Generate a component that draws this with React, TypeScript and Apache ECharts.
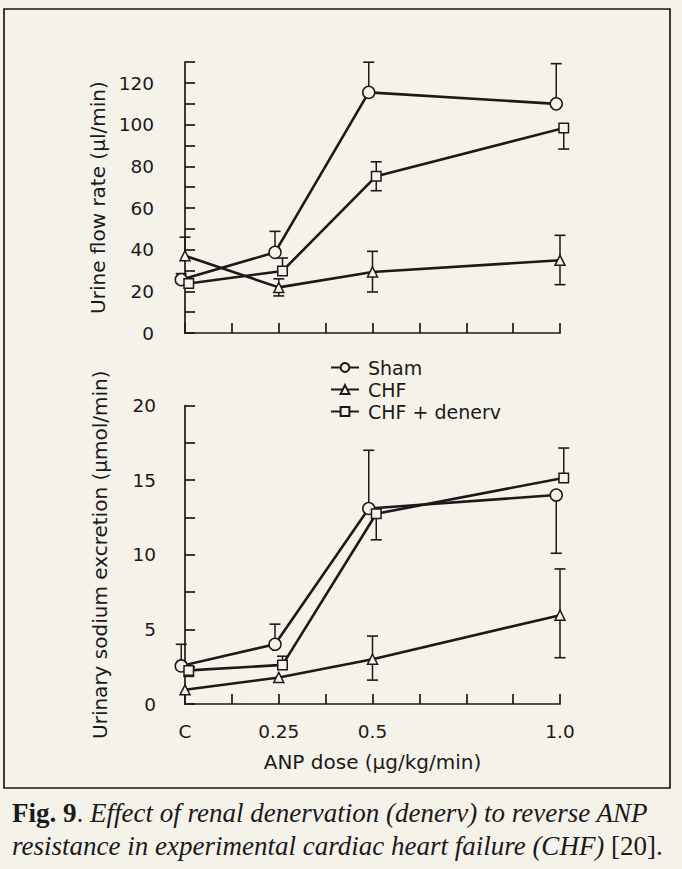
import React, { useEffect, useRef } from "react";
import * as echarts from "echarts";

// ---- data ----
const doses = [0, 0.25, 0.5, 1.0];
const xTickLabels = ["C", "0.25", "0.5", "1.0"];
const seriesNames = ["Sham", "CHF", "CHF + denerv"];

// Urine flow rate (µl/min)
const flowSham = [25.6, 38.7, 115.5, 110];
const flowShamHi = [28.5, 48.8, 130, 129.3];
const flowShamLo: (number | null)[] = [null, null, null, null];
const flowCHF = [37.1, 21.9, 29.3, 34.9];
const flowCHFHi = [46, 26, 39.2, 46.9];
const flowCHFLo: (number | null)[] = [null, 17.8, 19.7, 23.2];
const flowDen = [23.8, 29.8, 75.3, 98.4];
const flowDenHi: (number | null)[] = [null, 36, 82.2, null];
const flowDenLo: (number | null)[] = [null, null, 68.3, 88.3];

// Urinary sodium excretion (µmol/min)
const naSham = [2.55, 4.0, 13.1, 14.0];
const naShamHi: (number | null)[] = [4.0, 5.35, 17.0, null];
const naShamLo: (number | null)[] = [null, null, null, 10.1];
const naCHF = [0.95, 1.78, 3.0, 5.95];
const naCHFHi: (number | null)[] = [null, null, 4.55, 9.05];
const naCHFLo: (number | null)[] = [null, null, 1.6, 3.1];
const naDen = [2.25, 2.62, 12.75, 15.15];
const naDenHi: (number | null)[] = [null, 3.2, null, 17.15];
const naDenLo: (number | null)[] = [1.85, null, 11.0, null];

// ---- style ----
const INK = "#1a1a1a";
const PAPER = "#f5f2ea";
const SANS = "DejaVu Sans";
const SERIF = "Liberation Serif";
const xJitter = [-0.01, 0, 0.01];
const symbols = ["circle", "triangle", "rect"];
const symbolSizes = [12, 10, 9.5];

function App() {
  const ref = useRef<HTMLDivElement>(null);
  useEffect(() => {
    const chart = echarts.init(ref.current!, null, { renderer: "svg" });

    const lineSeries = (
      name: string,
      idx: number,
      vals: number[],
      axis: number
    ) => ({
      type: "line",
      name,
      xAxisIndex: axis,
      yAxisIndex: axis,
      data: doses.map((d, i) => [d + xJitter[idx], vals[i]]),
      symbol: symbols[idx],
      symbolSize: symbolSizes[idx],
      showSymbol: true,
      clip: false,
      z: 3,
      lineStyle: { color: INK, width: 2.6 },
      itemStyle: { color: PAPER, borderColor: INK, borderWidth: 1.5 },
      emphasis: { disabled: true },
    });

    const errSeries = (
      idx: number,
      vals: number[],
      hi: (number | null)[],
      lo: (number | null)[],
      axis: number
    ) => ({
      type: "custom",
      xAxisIndex: axis,
      yAxisIndex: axis,
      z: 1,
      silent: true,
      clip: false,
      data: doses.map((d, i) => [d + xJitter[idx], vals[i]]),
      renderItem: (params: any, api: any) => {
        const i = params.dataIndex;
        const x = api.value(0);
        const m = api.value(1);
        const top = hi[i] != null ? (hi[i] as number) : m;
        const bot = lo[i] != null ? (lo[i] as number) : m;
        const pTop = api.coord([x, top]);
        const pBot = api.coord([x, bot]);
        const children: any[] = [
          {
            type: "line",
            shape: { x1: pTop[0], y1: pTop[1], x2: pBot[0], y2: pBot[1] },
            style: { stroke: INK, lineWidth: 1.5 },
          },
        ];
        const cw = 5.5;
        if (hi[i] != null)
          children.push({
            type: "line",
            shape: { x1: pTop[0] - cw, y1: pTop[1], x2: pTop[0] + cw, y2: pTop[1] },
            style: { stroke: INK, lineWidth: 1.6 },
          });
        if (lo[i] != null)
          children.push({
            type: "line",
            shape: { x1: pBot[0] - cw, y1: pBot[1], x2: pBot[0] + cw, y2: pBot[1] },
            style: { stroke: INK, lineWidth: 1.6 },
          });
        return { type: "group", children };
      },
    });

    const axisLine = { show: true, lineStyle: { color: INK, width: 1.7 } };
    const tick = { show: true, inside: true, length: 10, lineStyle: { color: INK, width: 1.7 } };
    const labelStyle = { color: INK, fontFamily: SANS, fontSize: 18.5 };
    const nameStyle = { color: INK, fontFamily: SANS, fontSize: 20 };

    chart.setOption({
      animation: false,
      backgroundColor: PAPER,
      grid: [
        { left: 185, right: 122, top: 62.2, bottom: 536 },
        { left: 185, right: 122, top: 405.5, bottom: 165 },
      ],
      xAxis: [
        {
          type: "value",
          gridIndex: 0,
          min: 0,
          max: 1,
          interval: 0.125,
          axisLine,
          axisTick: tick,
          axisLabel: { show: false },
          splitLine: { show: false },
        },
        {
          type: "value",
          gridIndex: 1,
          min: 0,
          max: 1,
          interval: 0.125,
          offset: 10,
          axisLine,
          axisTick: tick,
          axisLabel: {
            ...labelStyle,
            margin: 8,
            formatter: (v: number) => {
              const k = doses.findIndex((d) => Math.abs(d - v) < 1e-6);
              return k >= 0 ? xTickLabels[k] : "";
            },
          },
          splitLine: { show: false },
          name: "ANP dose (µg/kg/min)",
          nameLocation: "middle",
          nameGap: 38,
          nameTextStyle: nameStyle,
        },
      ],
      yAxis: [
        {
          type: "value",
          gridIndex: 0,
          min: 0,
          max: 130,
          interval: 10,
          offset: 21,
          axisLine,
          axisTick: tick,
          axisLabel: {
            ...labelStyle,
            margin: 10,
            formatter: (v: number) => (v % 20 === 0 ? String(v) : ""),
          },
          splitLine: { show: false },
          name: "Urine flow rate (µl/min)",
          nameLocation: "middle",
          nameGap: 56,
          nameTextStyle: nameStyle,
        },
        {
          type: "value",
          gridIndex: 1,
          min: 0,
          max: 20,
          interval: 2.5,
          offset: 19,
          axisLine,
          axisTick: tick,
          axisLabel: {
            ...labelStyle,
            margin: 10,
            formatter: (v: number) => (v % 5 === 0 ? String(v) : ""),
          },
          splitLine: { show: false },
          name: "Urinary sodium excretion (µmol/min)",
          nameLocation: "middle",
          nameGap: 56,
          nameTextStyle: nameStyle,
        },
      ],
      legend: {
        data: seriesNames,
        orient: "vertical",
        left: 325,
        top: 353,
        itemWidth: 28,
        itemHeight: 11,
        itemGap: 3,
        selectedMode: false,
        textStyle: { color: INK, fontFamily: SANS, fontSize: 19, lineHeight: 18.5, padding: [0, 0, 0, 4] },
      },
      graphic: [
        {
          type: "rect",
          shape: { x: 4, y: 9, width: 666, height: 779 },
          style: { fill: "none", stroke: INK, lineWidth: 1.7 },
          silent: true,
        },
        {
          type: "text",
          left: 12,
          top: 799,
          style: {
            text: "{b|Fig. 9}{r|. }{i|Effect of renal denervation (denerv) to reverse ANP}",
            rich: {
              b: { fontFamily: SERIF, fontSize: 27, fontWeight: "bold", fill: INK },
              r: { fontFamily: SERIF, fontSize: 27, fill: INK },
              i: { fontFamily: SERIF, fontSize: 27, fontStyle: "italic", fill: INK },
            },
          },
        },
        {
          type: "text",
          left: 12,
          top: 832,
          style: {
            text: "{i|resistance in experimental cardiac heart failure (CHF)}{r| [20].}",
            rich: {
              r: { fontFamily: SERIF, fontSize: 27, fill: INK },
              i: { fontFamily: SERIF, fontSize: 27, fontStyle: "italic", fill: INK },
            },
          },
        },
      ],
      series: [
        errSeries(0, flowSham, flowShamHi, flowShamLo, 0),
        errSeries(1, flowCHF, flowCHFHi, flowCHFLo, 0),
        errSeries(2, flowDen, flowDenHi, flowDenLo, 0),
        errSeries(0, naSham, naShamHi, naShamLo, 1),
        errSeries(1, naCHF, naCHFHi, naCHFLo, 1),
        errSeries(2, naDen, naDenHi, naDenLo, 1),
        lineSeries(seriesNames[0], 0, flowSham, 0),
        lineSeries(seriesNames[1], 1, flowCHF, 0),
        lineSeries(seriesNames[2], 2, flowDen, 0),
        lineSeries(seriesNames[0], 0, naSham, 1),
        lineSeries(seriesNames[1], 1, naCHF, 1),
        lineSeries(seriesNames[2], 2, naDen, 1),
      ],
    });
    return () => chart.dispose();
  }, []);
  return (
    <div
      ref={ref}
      style={{ position: "absolute", left: 0, top: 0, width: 682, height: 869 }}
    />
  );
}

export default App;
